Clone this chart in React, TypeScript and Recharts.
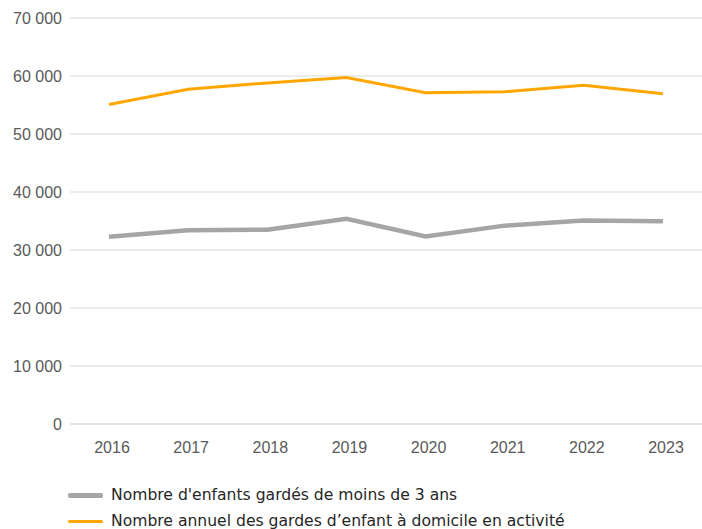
import React from 'react';
import { LineChart, Line, XAxis, YAxis, CartesianGrid } from 'recharts';

const years = ['2016', '2017', '2018', '2019', '2020', '2021', '2022', '2023'];
const enfantsGardes = [32300, 33400, 33500, 35400, 32350, 34200, 35100, 34950];
const gardesDomicile = [55100, 57700, 58800, 59750, 57100, 57300, 58400, 56950];
const yTicks = [0, 10000, 20000, 30000, 40000, 50000, 60000, 70000];

const seriesNames = [
  "Nombre d'enfants gardés de moins de 3 ans",
  'Nombre annuel des gardes d’enfant à domicile en activité',
];
const seriesColors = ['#A5A5A5', '#FFA700'];

const data = years.map((y, i) => ({
  year: y,
  enfants: enfantsGardes[i],
  gardes: gardesDomicile[i],
}));

const fmt = (v: number) => (v === 0 ? '0' : v.toLocaleString('fr-FR').replace(/\s/g, ' '));

const axisFont = { fontFamily: '"Liberation Sans", sans-serif', fontSize: 16, fill: '#595959' };

const App: React.FC = () => {
  return (
    <div style={{ position: 'absolute', left: 0, top: 0, width: 702, height: 529, background: '#fff' }}>
      <LineChart width={702} height={470} data={data} margin={{ top: 18, right: 0, bottom: 0, left: 0 }}>
        <CartesianGrid stroke="#D9D9D9" vertical={false} />
        <XAxis
          dataKey="year"
          axisLine={{ stroke: '#D9D9D9' }}
          tickLine={false}
          tick={{ ...axisFont, dx: 3 }}
          tickMargin={12}
          height={46}
          padding={{ left: 39, right: 39 }}
        />
        <YAxis
          domain={[0, 70000]}
          ticks={yTicks}
          tickFormatter={fmt}
          axisLine={false}
          tickLine={false}
          tick={axisFont}
          tickMargin={2}
          width={70}
          interval={0}
        />
        <Line
          dataKey="enfants"
          stroke={seriesColors[0]}
          strokeWidth={4.5}
          dot={false}
          isAnimationActive={false}
        />
        <Line
          dataKey="gardes"
          stroke={seriesColors[1]}
          strokeWidth={3}
          dot={false}
          isAnimationActive={false}
        />
      </LineChart>
      {/* Legend */}
      <div style={{ position: 'absolute', left: 68, top: 482, fontFamily: '"DejaVu Sans", sans-serif', fontSize: 15.6, color: '#262626' }}>
        {seriesNames.map((name, i) => (
          <div key={name} style={{ display: 'flex', alignItems: 'center', height: 26 }}>
            <span
              style={{
                display: 'inline-block',
                width: 35,
                height: i === 0 ? 5 : 3,
                background: seriesColors[i],
                borderRadius: 2,
                marginRight: 8,
              }}
            />
            <span>{name}</span>
          </div>
        ))}
      </div>
    </div>
  );
};

export default App;
